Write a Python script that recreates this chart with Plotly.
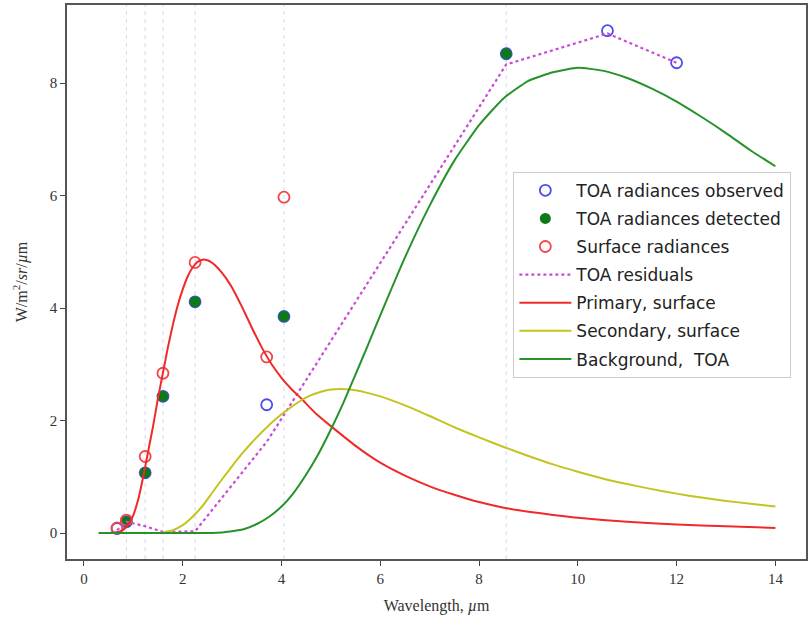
import plotly.graph_objects as go

# ---------------- data ----------------
bands = [0.67, 0.86, 1.24, 1.6, 2.25, 3.7, 4.05, 8.55, 10.6, 12.0]
toa_observed = [0.08, 0.2, 1.07, 2.43, 4.11, 2.28, 3.85, 8.52, 8.93, 8.36]

detected_bands = [0.86, 1.24, 1.6, 2.25, 4.05, 8.55]
toa_detected = [0.2, 1.07, 2.43, 4.11, 3.85, 8.52]

surface_bands = [0.67, 0.86, 1.24, 1.6, 2.25, 3.7, 4.05]
surface_radiance = [0.09, 0.23, 1.36, 2.84, 4.81, 3.13, 5.97]

toa_residuals = [0.05, 0.2, 0.12, 0.02, 0.03, 1.62, 2.1, 8.33, 8.88, 8.36]

wl_primary = [0.3, 0.5, 0.7, 0.8, 0.9, 1.0, 1.1, 1.2, 1.3, 1.4, 1.5, 1.6, 1.7,
              1.8, 1.9, 2.0, 2.1, 2.2, 2.3, 2.4, 2.5, 2.6, 2.7, 2.8, 2.9, 3.0,
              3.2, 3.4, 3.6, 3.8, 4.0, 4.2, 4.4, 4.7, 5.0, 5.5, 6.0, 6.5, 7.0,
              7.5, 8.0, 8.5, 9.0, 9.5, 10.0, 11.0, 12.0, 13.0, 14.0]
primary_surface = [0.0, 0.0, 0.02, 0.06, 0.15, 0.32, 0.6, 1.0, 1.45, 1.9, 2.4,
                   2.85, 3.3, 3.7, 4.05, 4.33, 4.56, 4.72, 4.82, 4.86, 4.85,
                   4.8, 4.72, 4.62, 4.5, 4.36, 4.02, 3.65, 3.3, 3.0, 2.76, 2.56,
                   2.39, 2.12, 1.9, 1.55, 1.25, 1.02, 0.83, 0.68, 0.55, 0.45,
                   0.38, 0.32, 0.27, 0.2, 0.15, 0.12, 0.09]

wl_secondary = [0.3, 1.4, 1.6, 1.8, 2.0, 2.2, 2.4, 2.6, 2.8, 3.0, 3.2, 3.4, 3.6,
                3.8, 4.0, 4.2, 4.4, 4.6, 4.8, 5.0, 5.2, 5.4, 5.7, 6.0, 6.5, 7.0,
                7.5, 8.0, 8.5, 9.0, 9.5, 10.0, 10.5, 11.0, 11.5, 12.0, 12.5,
                13.0, 13.5, 14.0]
secondary_surface = [0.0, 0.0, 0.01, 0.05, 0.14, 0.29, 0.48, 0.72, 0.96, 1.19,
                     1.41, 1.61, 1.79, 1.96, 2.11, 2.24, 2.36, 2.45, 2.51, 2.55,
                     2.56, 2.55, 2.5, 2.43, 2.27, 2.08, 1.88, 1.7, 1.53, 1.37,
                     1.22, 1.09, 0.97, 0.87, 0.78, 0.7, 0.63, 0.57, 0.52, 0.47]

wl_background = [0.3, 2.6, 2.8, 3.0, 3.25, 3.5, 3.75, 4.0, 4.25, 4.5, 4.75, 5.0,
                 5.25, 5.5, 5.75, 6.0, 6.5, 7.0, 7.5, 8.0, 8.5, 9.0, 9.5, 10.0,
                 10.5, 11.0, 11.5, 12.0, 12.5, 13.0, 13.5, 14.0]
background_toa = [0.0, 0.0, 0.01, 0.03, 0.07, 0.16, 0.29, 0.47, 0.72, 1.04, 1.41,
                  1.84, 2.31, 2.82, 3.34, 3.87, 4.9, 5.82, 6.62, 7.25, 7.73,
                  8.04, 8.19, 8.27, 8.22, 8.09, 7.9, 7.67, 7.4, 7.11, 6.8, 6.52]

x_ticks = [0, 2, 4, 6, 8, 10, 12, 14]
y_ticks = [0, 2, 4, 6, 8]

# ---------------- figure ----------------
fig = go.Figure()

for b in detected_bands:
    fig.add_vline(x=b, line=dict(color="rgba(170,170,235,0.5)", width=1,
                                 dash="4px,4px"), layer="below")

def grp(name):
    return dict(legendgroup=name, name=name)

curve_line = dict(width=2, shape="spline", smoothing=0.5)

fig.add_trace(go.Scatter(x=bands, y=toa_observed, mode="markers",
                         marker=dict(symbol="circle-open", size=11, color="#4b4bf0",
                                     line=dict(width=1.8)),
                         **grp("TOA radiances observed")))
fig.add_trace(go.Scatter(x=detected_bands, y=toa_detected, mode="markers",
                         marker=dict(symbol="circle", size=11, color="#0b7a17"),
                         **grp("TOA radiances detected")))
fig.add_trace(go.Scatter(x=surface_bands, y=surface_radiance, mode="markers",
                         marker=dict(symbol="circle-open", size=11, color="#f04848",
                                     line=dict(width=1.8)),
                         **grp("Surface radiances")))
fig.add_trace(go.Scatter(x=bands, y=toa_residuals, mode="lines",
                         line=dict(color="#c84bd6", width=2.2, dash="dot"),
                         **grp("TOA residuals")))
fig.add_trace(go.Scatter(x=wl_primary, y=primary_surface, mode="lines",
                         line=dict(color="#f02a2a", **curve_line),
                         **grp("Primary, surface")))
fig.add_trace(go.Scatter(x=wl_secondary, y=secondary_surface, mode="lines",
                         line=dict(color="#c4c420", **curve_line),
                         **grp("Secondary, surface")))
fig.add_trace(go.Scatter(x=wl_background, y=background_toa, mode="lines",
                         line=dict(color="#27922a", **curve_line),
                         **grp("Background,  TOA")))

axis_common = dict(showgrid=False, zeroline=False, showline=True, mirror=True,
                   linecolor="#555555", linewidth=1.5, ticks="outside",
                   ticklen=5, tickwidth=1.2, tickcolor="#444444",
                   tickfont=dict(family="Liberation Serif", size=15, color="#333333"))

fig.update_layout(
    width=808, height=623,
    margin=dict(l=67, r=0, t=5, b=64),
    paper_bgcolor="white", plot_bgcolor="white",
    xaxis=dict(range=[-0.343, 14.62], tickvals=x_ticks,
               title=dict(text="Wavelength, <i>µ</i>m", standoff=14,
                          font=dict(family="Liberation Serif", size=16, color="#333333")),
               **axis_common),
    yaxis=dict(range=[-0.462, 9.387], tickvals=y_ticks,
               title=dict(text="W/m<sup>2</sup>/<i>sr</i>/<i>µ</i>m", standoff=18,
                          font=dict(family="Liberation Serif", size=16, color="#333333")),
               **axis_common),
    legend=dict(x=0.604, y=0.699, xanchor="left", yanchor="top",
                bgcolor="white", bordercolor="#cccccc", borderwidth=1,
                font=dict(family="DejaVu Sans", size=17, color="#222222"),
                tracegroupgap=3, itemwidth=52),
    showlegend=True,
)

fig.write_html("out.html", post_script="document.body.style.margin='0';",
               config={"displayModeBar": False})
